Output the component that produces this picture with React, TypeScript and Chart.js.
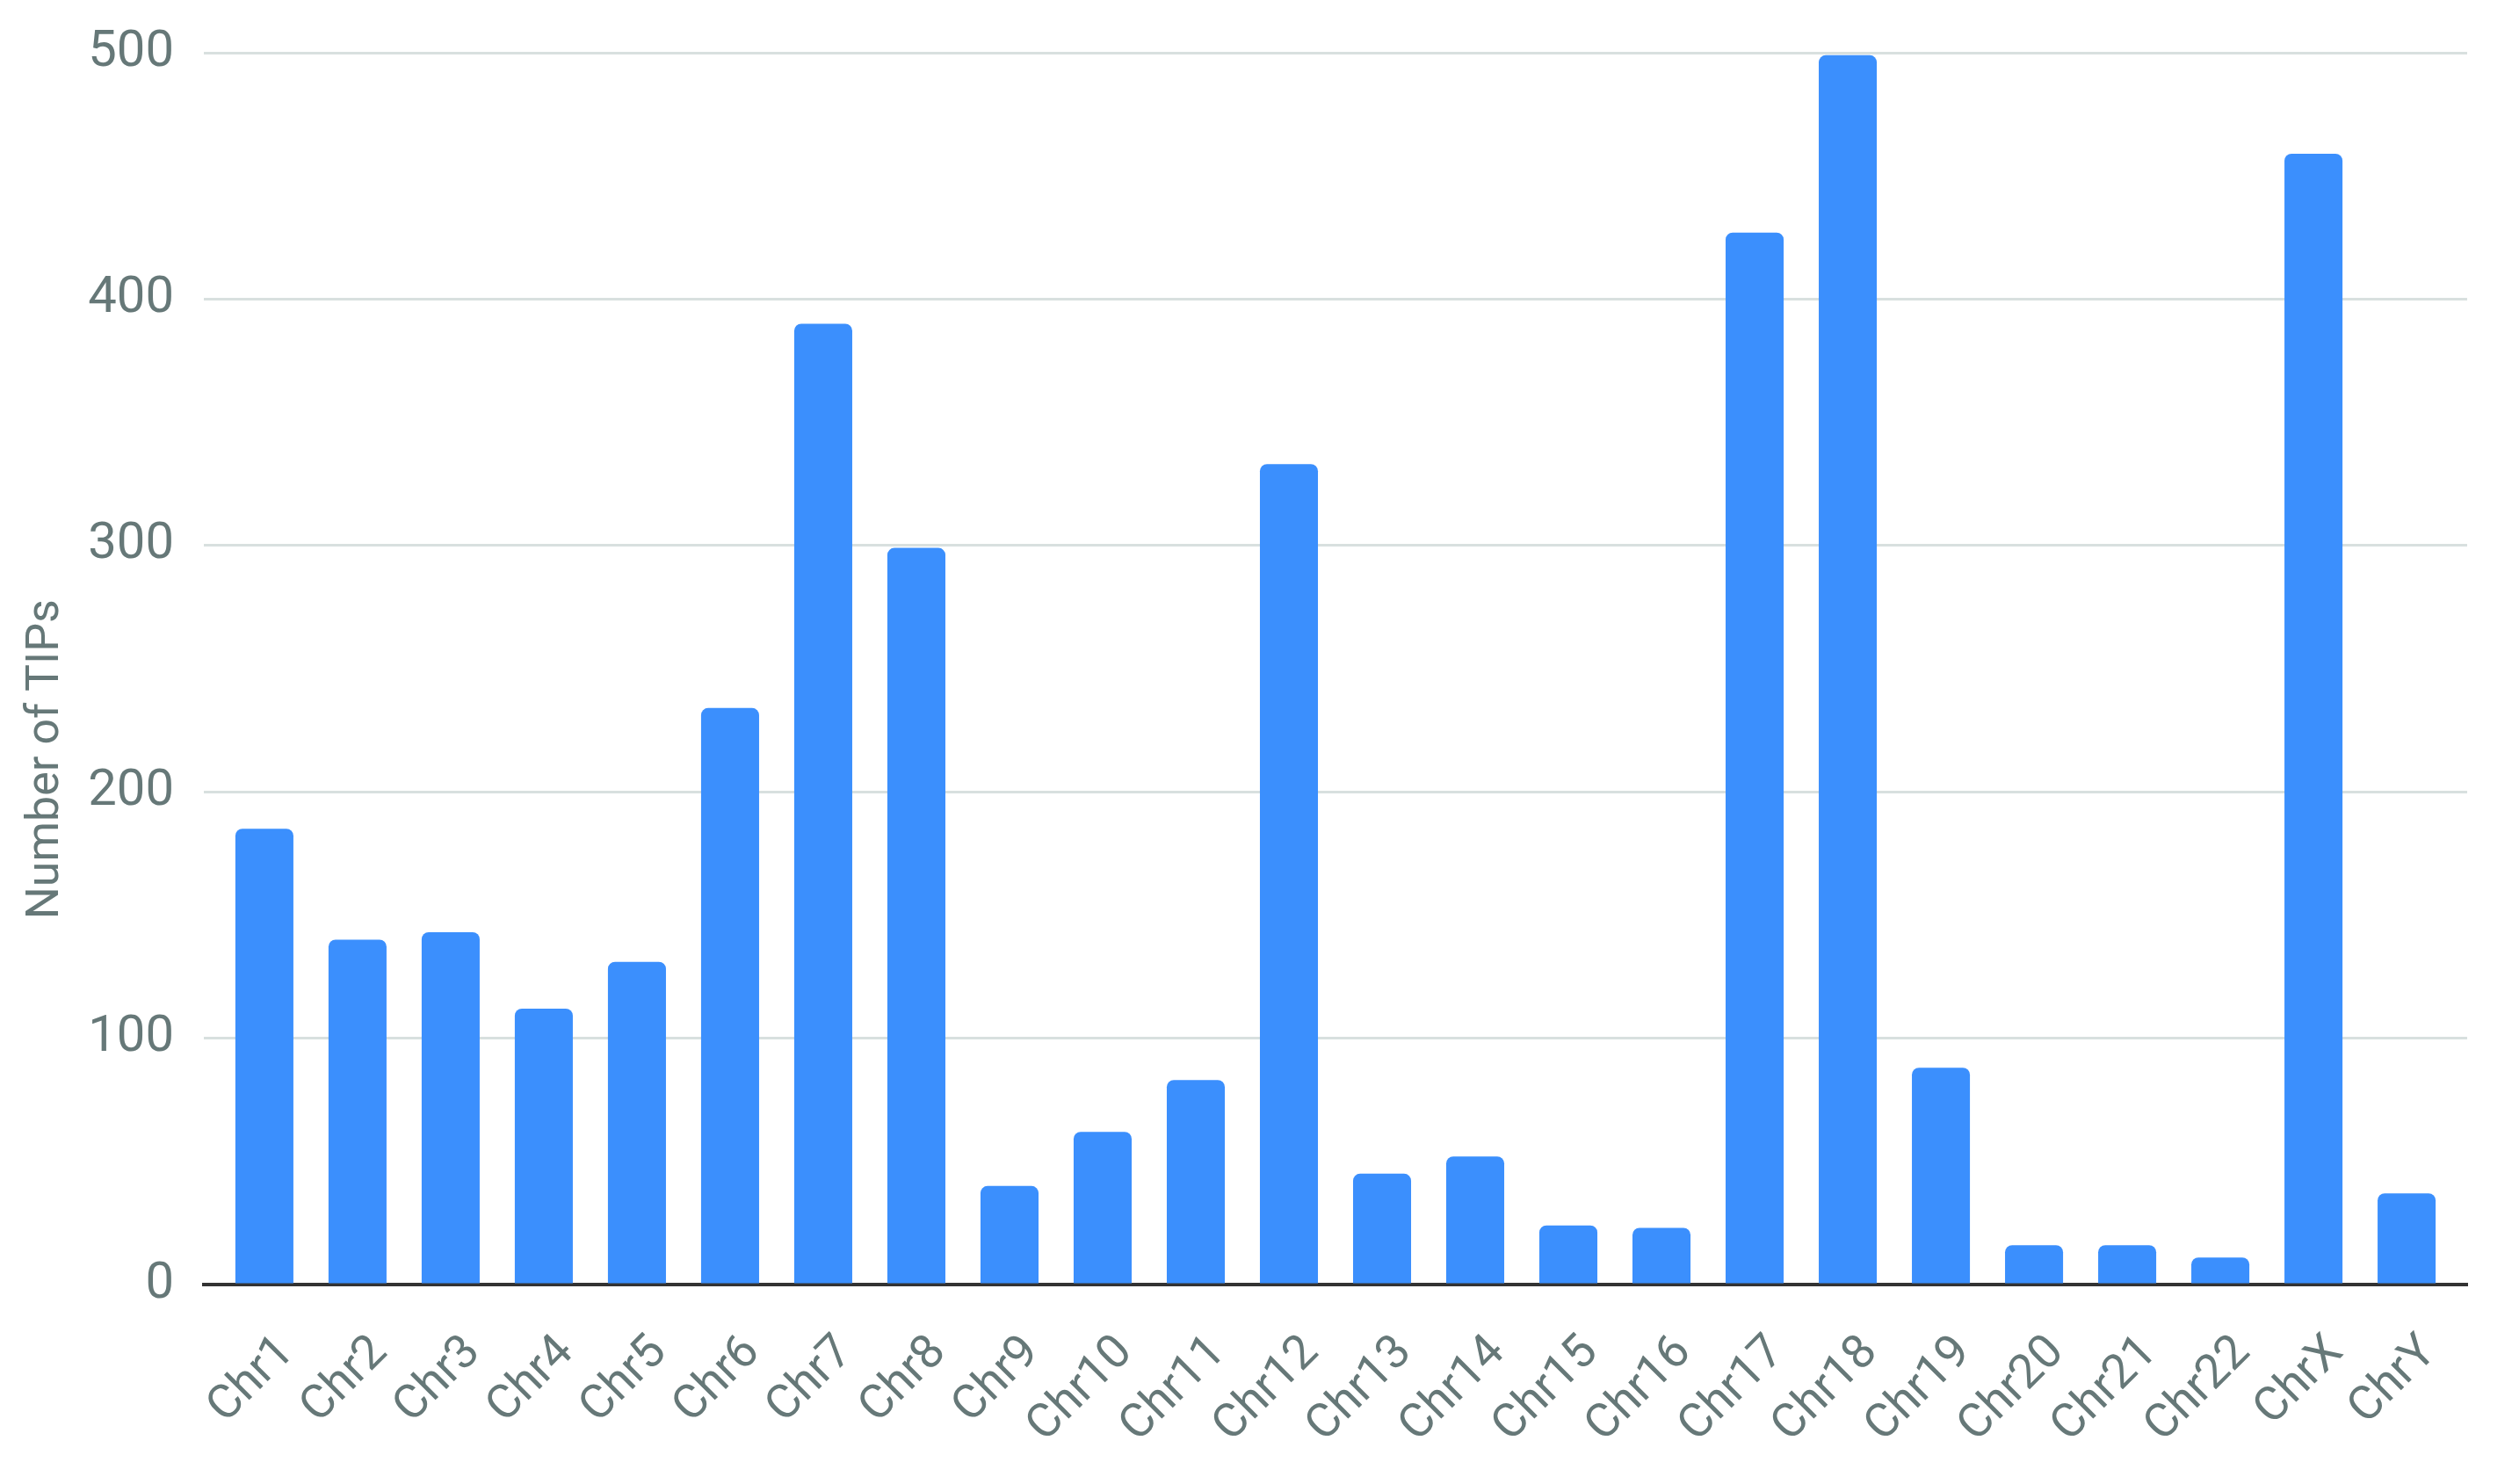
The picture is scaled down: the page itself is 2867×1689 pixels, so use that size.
import React, { useEffect, useRef } from "react";
import { Chart, registerables } from "chart.js";

Chart.register(...registerables);

const categories = [
  "Chr1", "Chr2", "Chr3", "Chr4", "Chr5", "Chr6", "Chr7", "Chr8",
  "Chr9", "Chr10", "Chr11", "Chr12", "Chr13", "Chr14", "Chr15", "Chr16",
  "Chr17", "Chr18", "Chr19", "Chr20", "Chr21", "Chr22", "ChrX", "ChrY",
];
const tipCounts = [
  185, 140, 143, 112, 131, 234, 390, 299,
  40, 62, 83, 333, 45, 52, 24, 23,
  427, 499, 88, 16, 16, 11, 459, 37,
];
const yTicks = [0, 100, 200, 300, 400, 500];
const yTitle = "Number of TIPs";

const W = 2867;
const H = 1689;
const TEXT = "#667878";
const FONT = "Roboto";

export default function App() {
  const ref = useRef<HTMLCanvasElement | null>(null);
  useEffect(() => {
    const canvas = ref.current;
    if (!canvas) return;
    const chart = new Chart(canvas, {
      type: "bar",
      data: {
        datasets: [
          {
            label: yTitle,
            data: tipCounts.map((v, i) => ({ x: i, y: v })),
            backgroundColor: "#3b8ffd",
            borderWidth: 0,
            borderRadius: 8,
            borderSkipped: "start",
            barPercentage: 0.623,
            categoryPercentage: 1,
          },
        ],
      },
      options: {
        animation: false,
        responsive: false,
        layout: { padding: { left: 0, top: 60, right: 59, bottom: 0 } },
        plugins: { legend: { display: false }, tooltip: { enabled: false } },
        scales: {
          x: {
            type: "linear",
            min: -0.65,
            max: categories.length - 1 + 0.65,
            offset: false,
            afterFit: (s: any) => {
              s.height = 227;
            },
            afterBuildTicks: (s: any) => {
              s.ticks = categories.map((_, i) => ({ value: i }));
            },
            grid: { display: false, drawTicks: false },
            border: { display: true, color: "#333333", width: 4 },
            ticks: {
              autoSkip: false,
              minRotation: 45,
              maxRotation: 45,
              padding: 46,
              labelOffset: 26,
              color: TEXT,
              font: { family: FONT, size: 54 },
              callback: (v: any) => categories[Math.round(Number(v))] ?? "",
            },
          },
          y: {
            min: 0,
            max: 500,
            afterFit: (s: any) => {
              s.width = 232;
            },
            afterBuildTicks: (s: any) => {
              s.ticks = yTicks.map((v) => ({ value: v }));
            },
            grid: {
              color: (c: any) => (c.tick && c.tick.value === 0 ? "rgba(0,0,0,0)" : "#d8e0df"),
              lineWidth: 3,
              drawTicks: true,
              tickLength: 34,
              tickColor: "rgba(0,0,0,0)",
            },
            border: { display: false },
            ticks: {
              padding: 0,
              color: TEXT,
              font: { family: FONT, size: 58 },
            },
            title: {
              display: true,
              text: yTitle + "                ",
              color: TEXT,
              font: { family: FONT, size: 52 },
              padding: { top: 22, bottom: 0 },
            },
          },
        },
      },
    });
    return () => chart.destroy();
  }, []);
  return (
    <div style={{ position: "fixed", left: 0, top: 0, width: W, height: H, background: "#ffffff" }}>
      <canvas ref={ref} width={W} height={H} style={{ width: W, height: H, display: "block" }} />
    </div>
  );
}
